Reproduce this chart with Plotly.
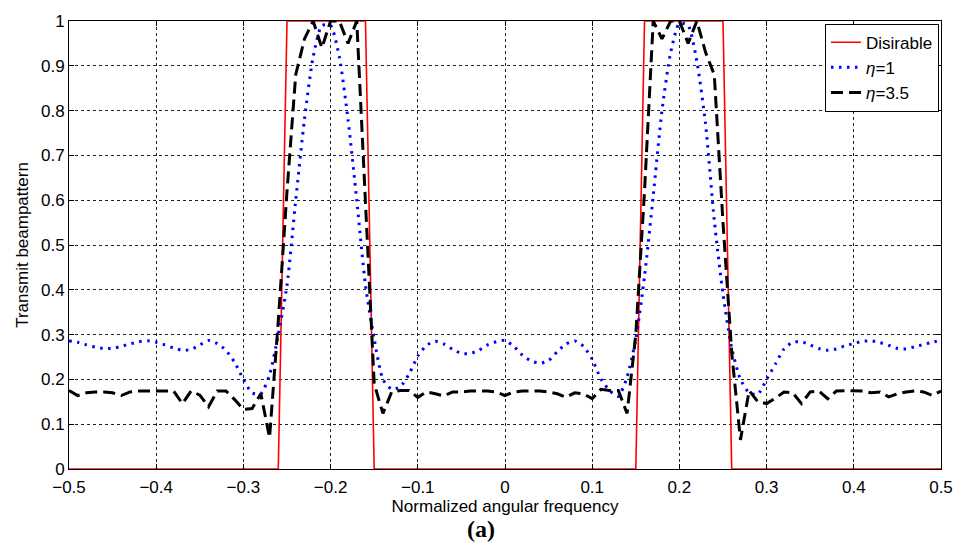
import plotly.graph_objects as go

# ---------------- data ----------------
x_grid = [round(-0.5 + 0.01 * i, 2) for i in range(101)]

desired_x = [-0.5, -0.26, -0.25, -0.16, -0.15, 0.15, 0.16, 0.25, 0.26, 0.5]
desired_y = [0, 0, 1, 1, 0, 0, 1, 1, 0, 0]

eta1 = [
    0.286, 0.283, 0.277, 0.272, 0.269, 0.269, 0.274, 0.279, 0.284, 0.286,   # -0.50 .. -0.41
    0.283, 0.277, 0.270, 0.265, 0.267, 0.277, 0.287, 0.280, 0.265, 0.238,   # -0.40 .. -0.31
    0.200, 0.170, 0.168, 0.210, 0.300, 0.410, 0.600, 0.780, 0.920, 0.990,   # -0.30 .. -0.21
    0.990, 0.920, 0.780, 0.600, 0.410, 0.290, 0.200, 0.178, 0.184, 0.212,   # -0.20 .. -0.11
    0.252, 0.276, 0.285, 0.279, 0.267, 0.258, 0.258, 0.265, 0.277, 0.284,   # -0.10 .. -0.01
    0.287,                                                                   # 0.00
    0.274, 0.254, 0.241, 0.236, 0.242, 0.262, 0.279, 0.286, 0.274, 0.245,   # 0.01 .. 0.10
    0.201, 0.175, 0.162, 0.205, 0.290, 0.430, 0.610, 0.800, 0.930, 0.995,   # 0.11 .. 0.20
    0.990, 0.910, 0.770, 0.555, 0.390, 0.270, 0.200, 0.170, 0.167, 0.200,   # 0.21 .. 0.30
    0.234, 0.268, 0.283, 0.284, 0.277, 0.269, 0.265, 0.268, 0.275, 0.280,   # 0.31 .. 0.40
    0.285, 0.286, 0.282, 0.276, 0.269, 0.268, 0.273, 0.278, 0.283, 0.287,   # 0.41 .. 0.50
]

eta35 = [
    0.175, 0.164, 0.170, 0.172, 0.172, 0.170, 0.164, 0.172, 0.174, 0.174,   # -0.50 .. -0.41
    0.174, 0.174, 0.174, 0.146, 0.174, 0.165, 0.139, 0.174, 0.174, 0.155,   # -0.40 .. -0.31
    0.133, 0.135, 0.168, 0.070, 0.330, 0.620, 0.880, 0.960, 1.000, 0.940,   # -0.30 .. -0.21
    1.000, 1.000, 0.950, 1.000, 0.580, 0.190, 0.124, 0.172, 0.175, 0.175,   # -0.20 .. -0.11
    0.160, 0.172, 0.168, 0.163, 0.172, 0.172, 0.174, 0.174, 0.174, 0.172,   # -0.10 .. -0.01
    0.164,                                                                   # 0.00
    0.172, 0.174, 0.174, 0.174, 0.172, 0.168, 0.160, 0.170, 0.168, 0.157,   # 0.01 .. 0.10
    0.178, 0.175, 0.175, 0.124, 0.300, 0.620, 1.000, 0.960, 1.000, 1.000,   # 0.11 .. 0.20
    0.950, 1.000, 0.930, 0.880, 0.550, 0.260, 0.065, 0.175, 0.150, 0.146,   # 0.21 .. 0.30
    0.158, 0.172, 0.170, 0.146, 0.172, 0.174, 0.157, 0.174, 0.175, 0.174,   # 0.31 .. 0.40
    0.174, 0.170, 0.172, 0.161, 0.168, 0.172, 0.174, 0.172, 0.164, 0.174,   # 0.41 .. 0.50
]

x_ticks = [-0.5, -0.4, -0.3, -0.2, -0.1, 0, 0.1, 0.2, 0.3, 0.4, 0.5]
x_tick_text = ["\u22120.5", "\u22120.4", "\u22120.3", "\u22120.2", "\u22120.1", "0",
               "0.1", "0.2", "0.3", "0.4", "0.5"]
y_ticks = [0, 0.1, 0.2, 0.3, 0.4, 0.5, 0.6, 0.7, 0.8, 0.9, 1]
y_tick_text = ["0", "0.1", "0.2", "0.3", "0.4", "0.5", "0.6", "0.7", "0.8", "0.9", "1"]

# ---------------- figure ----------------
FONT = "Liberation Sans, Arial, sans-serif"

fig = go.Figure()
fig.add_trace(go.Scatter(x=desired_x, y=desired_y, mode="lines", name="Disirable",
                         line=dict(color="#ff0000", width=1.6)))
fig.add_trace(go.Scatter(x=x_grid, y=eta1, mode="lines", name="<i>\u03b7</i>=1",
                         line=dict(color="#0000ff", width=3, dash="2.5px,5.5px", shape="spline",
                                   smoothing=0.6)))
fig.add_trace(go.Scatter(x=x_grid, y=eta35, mode="lines", name="<i>\u03b7</i>=3.5",
                         line=dict(color="#000000", width=3, dash="12px,6px")))

axis_common = dict(
    showgrid=True, gridcolor="#222222", gridwidth=1, griddash="dot",
    showline=True, linecolor="#000000", linewidth=1, mirror="ticks",
    ticks="inside", ticklen=5, tickcolor="#000000", zeroline=False,
    tickfont=dict(family=FONT, size=17, color="#000000"),
)

fig.update_xaxes(range=[-0.5, 0.5], tickvals=x_ticks, ticktext=x_tick_text,
                 ticklabelstandoff=3,
                 title=dict(text="Normalized angular frequency", standoff=0,
                            font=dict(family=FONT, size=17, color="#000000")),
                 **axis_common)
fig.update_yaxes(range=[0, 1], tickvals=y_ticks, ticktext=y_tick_text,
                 title=dict(text="Transmit beampattern", standoff=8,
                            font=dict(family=FONT, size=17, color="#000000")),
                 **axis_common)

fig.update_layout(
    width=965, height=557,
    margin=dict(l=69, r=23, t=17, b=88),
    paper_bgcolor="#ffffff", plot_bgcolor="#ffffff",
    showlegend=True,
    legend=dict(x=0.9977, y=0.994, xanchor="right", yanchor="top",
                bgcolor="#ffffff", bordercolor="#000000", borderwidth=1,
                font=dict(family=FONT, size=17, color="#000000"),
                itemwidth=30, tracegroupgap=0),
    annotations=[dict(text="<b>(a)</b>", x=0.473, y=-0.135, xref="paper", yref="paper",
                      xanchor="center", yanchor="middle", showarrow=False,
                      font=dict(family="Liberation Serif, DejaVu Serif, serif", size=24,
                                color="#000000"))],
)

fig.write_html("out.html")
